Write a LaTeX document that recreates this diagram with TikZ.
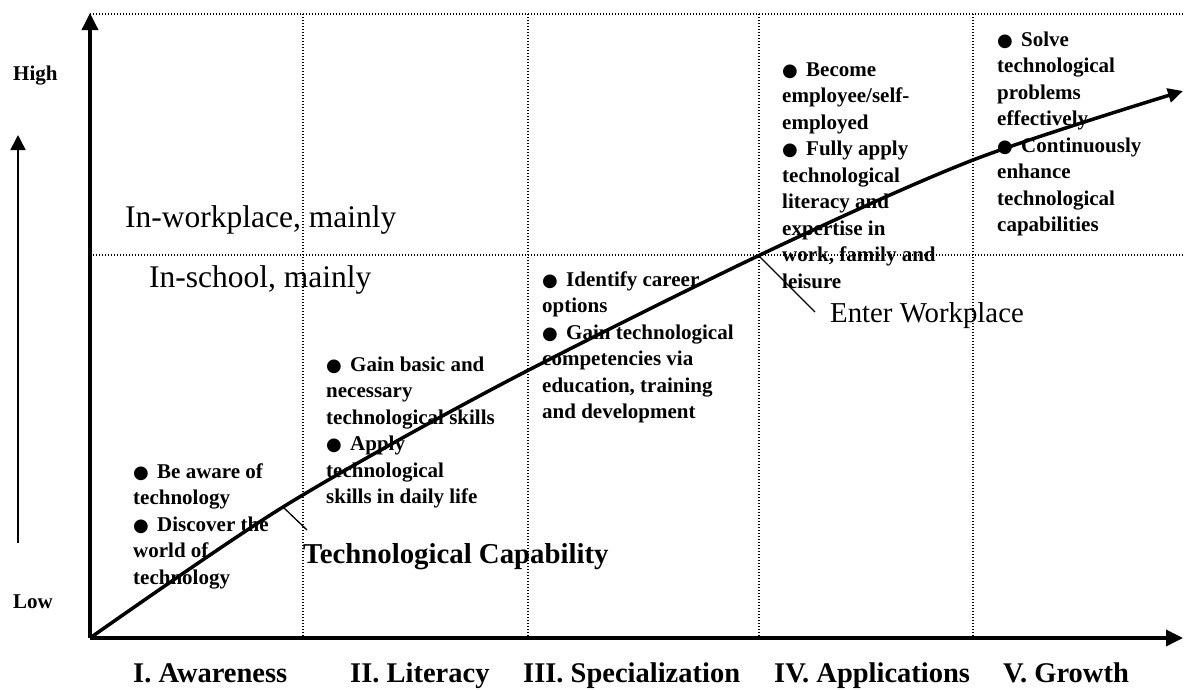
\documentclass[tikz,border=0pt]{standalone}
\usepackage{fontspec}
\setmainfont{Liberation Serif}
\newfontfamily\dotfont{DejaVu Sans}
\usetikzlibrary{arrows.meta, positioning}

\newcommand{\bul}{\makebox[24pt][l]{\dotfont\fontsize{18}{18}\selectfont ●}}

\begin{document}
\begin{tikzpicture}[x=1pt, y=-1pt,
		axis/.style = {line width=3.5pt, -{Triangle[length=17pt,width=16pt]}},
		grid/.style = {line width=1.3pt, dash pattern=on 1.3pt off 1.7pt},
		tick/.style = {line width=1.3pt},
		item/.style = {anchor=north west, inner sep=0pt, align=left, font=\bfseries\fontsize{21}{26.5}\selectfont},
		note/.style = {anchor=base west, inner sep=0pt, font=\fontsize{31.5}{36}\selectfont},
		phase/.style = {anchor=base west, inner sep=0pt, font=\bfseries\fontsize{28.5}{32}\selectfont},
		level/.style = {anchor=base west, inner sep=0pt, font=\bfseries\fontsize{21}{25}\selectfont}]
		\useasboundingbox (0,0) rectangle (1184,689);
		% grid
		\draw[grid] (90,14) -- (1184,14);
		\draw[grid] (90,255) -- (1184,255);
		\foreach \x in {303,528,759,973}
			\draw[grid] (\x,14) -- (\x,638);
		% axes
		\coordinate (o) at (90,638);
		\coordinate (ytop) at (90,13);
		\coordinate (xend) at (1183,638);
		\draw[axis] (o) -- (ytop);
		\draw[axis] (o) -- (xend);
		\coordinate (lowend) at (18,543);
		\coordinate (highend) at (18,135);
		\draw[line width=1.5pt, -{Triangle[length=15pt,width=15pt]}] (lowend) -- (highend);
		\node[level] (high) at (13,80) {High};
		\node[level] (low) at (13,608) {Low};
		% capability curve
		\draw[line width=3.5pt, -{Triangle[length=15pt,width=14pt]}] plot[smooth] coordinates {(90,638) (283,507) (500,385) (760,255) (973,160) (1183,91)};
		\node[note] (work) at (125,227) {In-workplace, mainly};
		\node[note] (school) at (149,287) {In-school, mainly};
		\node[anchor=base west, inner sep=0pt, font=\bfseries\fontsize{28.8}{32}\selectfont] (cap) at (303,563) {Technological Capability};
		\node[anchor=base west, inner sep=0pt, font=\fontsize{28.8}{32}\selectfont] (enter) at (830,322) {Enter Workplace};
		\coordinate (capon) at (283,507);
		\coordinate (capto) at (307,530);
		\coordinate (enteron) at (759,256);
		\coordinate (enterto) at (815,312);
		\draw[tick] (capon) -- (capto);
		\draw[tick] (enteron) -- (enterto);
		% stage texts
		\node[item] (aware) at (133,459.5) {\strut\bul Be aware of\\ technology\\ \bul Discover the\\ world of\\ technology};
		\node[item] (liter) at (326,352.5) {\strut\bul Gain basic and\\ necessary\\ technological skills\\ \bul Apply\\ technological\\ skills in daily life};
		\node[item] (spec) at (542,267.5) {\strut\bul Identify career\\ options\\ \bul Gain technological\\ competencies via\\ education, training\\ and development};
		\node[item] (appl) at (782,57.5) {\strut\bul Become\\ employee/self-\\ employed\\ \bul Fully apply\\ technological\\ literacy and\\ expertise in\\ work, family and\\ leisure};
		\node[item] (grow) at (997,27.5) {\strut\bul Solve\\ technological\\ problems\\ effectively\\ \bul Continuously\\ enhance\\ technological\\ capabilities};
		% stage names
		\node[phase] (p1) at (133,682) {I. Awareness};
		\node[phase] (p2) at (350,682) {II. Literacy};
		\node[phase] (p3) at (523,682) {III. Specialization};
		\node[phase] (p4) at (774,682) {IV. Applications};
		\node[phase] (p5) at (1003,682) {V. Growth};
	\end{tikzpicture}
\end{document}
